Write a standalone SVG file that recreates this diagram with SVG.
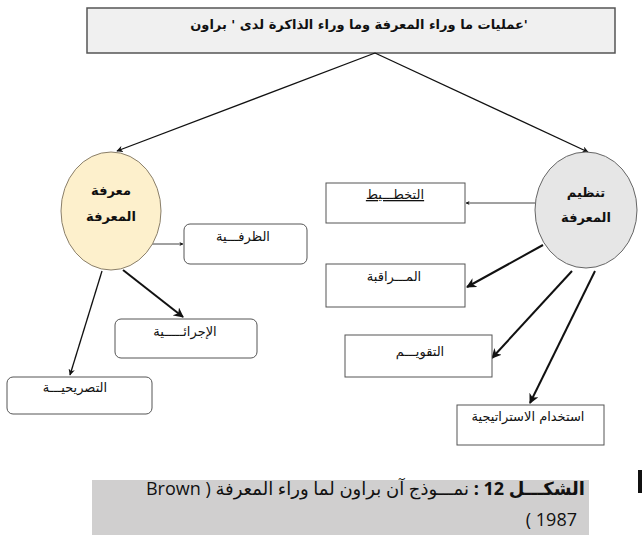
<svg xmlns="http://www.w3.org/2000/svg" width="643" height="541" viewBox="0 0 643 541">
<defs>
<style>
.lbl{font-family:"DejaVu Sans","Liberation Sans",sans-serif;font-size:13px;fill:#111;direction:rtl}
.ttl{font-family:"DejaVu Sans","Liberation Sans",sans-serif;font-size:13px;font-weight:bold;fill:#111;direction:rtl}
.circ{font-family:"DejaVu Sans","Liberation Sans",sans-serif;font-size:13px;font-weight:bold;fill:#111;direction:rtl}
.cap{font-family:"Open Sans","DejaVu Sans",sans-serif;font-size:18px;fill:#111;direction:rtl}
.rbox{fill:#fff;stroke:#555;stroke-width:1}
.sbox{fill:#fff;stroke:#555;stroke-width:1}
.edge{fill:none;stroke:#111}
</style>
<marker id="arr" viewBox="0 0 10 10" refX="9" refY="5" markerWidth="5" markerHeight="5" orient="auto" markerUnits="strokeWidth">
<path d="M0,0 L10,5 L0,10 L3,5 z" fill="#111"/>
</marker>
</defs>
<rect width="643" height="541" fill="#fff"/>

<g id="title">
<rect x="87" y="8" width="528" height="45" fill="#f0f0f0" stroke="#555" stroke-width="1.5"/>
<text class="ttl" x="359" y="29" text-anchor="middle">'عمليات ما وراء المعرفة وما وراء الذاكرة لدى ' براون</text>
</g>

<g id="connectors">
<path class="edge" d="M375,53 L117,151" stroke-width="1.3" marker-end="url(#arr)"/>
<path class="edge" d="M375,53 L588,152" stroke-width="1.3" marker-end="url(#arr)"/>
<path class="edge" d="M152,244 L183,244" stroke-width="0.8" marker-end="url(#arr)"/>
<path class="edge" d="M123,270 L183,317" stroke-width="2" marker-end="url(#arr)"/>
<path class="edge" d="M102,271 L70,375" stroke-width="1.3" marker-end="url(#arr)"/>
<path class="edge" d="M535,203 L466,203" stroke-width="0.8" marker-end="url(#arr)"/>
<path class="edge" d="M543,245 L467,287" stroke-width="2" marker-end="url(#arr)"/>
<path class="edge" d="M572,271 L492,358" stroke-width="2" marker-end="url(#arr)"/>
<path class="edge" d="M595,271 L530,403" stroke-width="2" marker-end="url(#arr)"/>
</g>

<g id="metacognitive-knowledge">
<ellipse cx="111" cy="211" rx="50" ry="59" fill="#fdf0cc" stroke="#8a7f6a" stroke-width="1"/>
<text class="circ" x="111" y="195" text-anchor="middle">معرفة</text>
<text class="circ" x="111" y="221" text-anchor="middle">المعرفة</text>
</g>

<g id="conditional">
<rect class="rbox" x="184" y="224" width="123" height="40" rx="6"/>
<text class="lbl" x="243" y="241" text-anchor="middle">الظرفـــية</text>
</g>

<g id="procedural">
<rect class="rbox" x="115" y="319" width="142" height="39" rx="6"/>
<text class="lbl" x="185" y="336" text-anchor="middle">الإجرائـــــية</text>
</g>

<g id="declarative">
<rect class="rbox" x="7" y="377" width="145" height="37" rx="6"/>
<text class="lbl" x="75" y="392" text-anchor="middle">التصريحيـــة</text>
</g>

<g id="metacognitive-regulation">
<ellipse cx="586" cy="210" rx="51" ry="58" fill="#e6e6e6" stroke="#666" stroke-width="1"/>
<text class="circ" x="586" y="197" text-anchor="middle">تنظيم</text>
<text class="circ" x="586" y="222" text-anchor="middle">المعرفة</text>
</g>

<g id="planning">
<rect class="sbox" x="326" y="183" width="139" height="40"/>
<text class="lbl" x="395" y="199" text-anchor="middle" text-decoration="underline">التخطـــيط</text>
</g>

<g id="monitoring">
<rect class="sbox" x="326" y="264" width="139" height="43"/>
<text class="lbl" x="394" y="281" text-anchor="middle">المـــراقبة</text>
</g>

<g id="evaluation">
<rect class="sbox" x="345" y="335" width="147" height="42"/>
<text class="lbl" x="420" y="356" text-anchor="middle">التقويـــم</text>
</g>

<g id="strategy-use">
<rect class="sbox" x="457" y="405" width="147" height="40"/>
<text class="lbl" x="528" y="421" text-anchor="middle">استخدام الاستراتيجية</text>
</g>

<g id="caption">
<rect x="92" y="480" width="497" height="55" fill="#d0cfcf"/>
<text class="cap" x="585" y="495" text-anchor="start"><tspan font-weight="bold">الشكـــل  12 :</tspan> نمـــوذج آن براون لما وراء المعرفة ( Brown</text>
<text class="cap" x="577" y="526" text-anchor="start">1987 )</text>
<rect x="638" y="470" width="4" height="23" fill="#111"/>
</g>
</svg>
